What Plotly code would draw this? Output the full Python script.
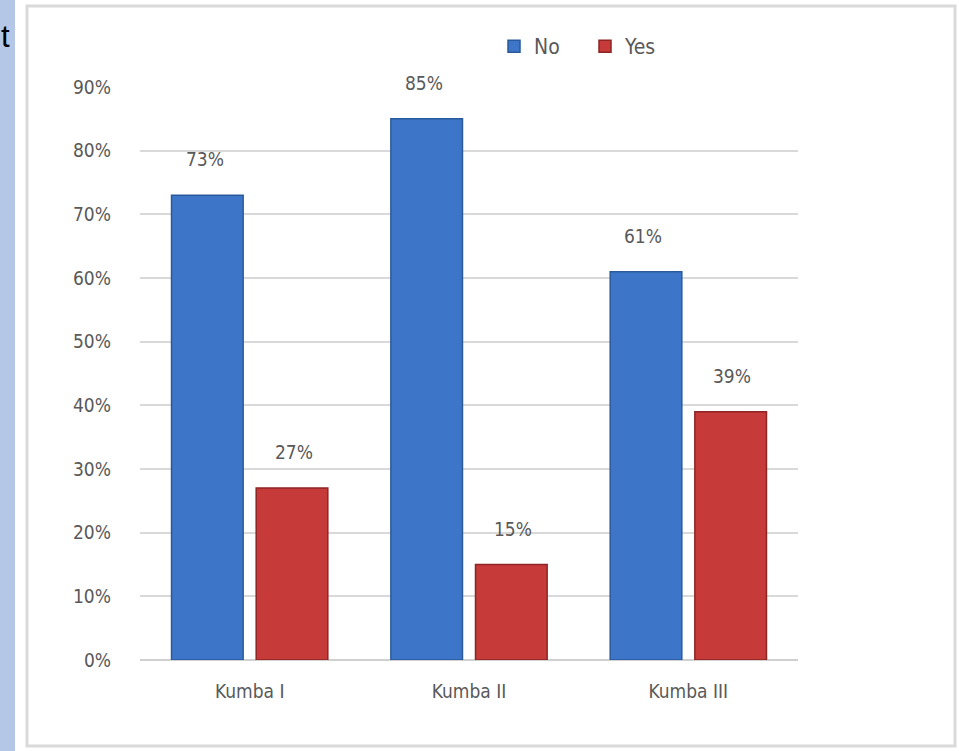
import plotly.graph_objects as go

categories = ["Kumba I", "Kumba II", "Kumba III"]
no_values = [0.73, 0.85, 0.61]
yes_values = [0.27, 0.15, 0.39]
tick_vals = [0, 0.1, 0.2, 0.3, 0.4, 0.5, 0.6, 0.7, 0.8, 0.9]
tick_text = ["0%", "10%", "20%", "30%", "40%", "50%", "60%", "70%", "80%", "90%"]

W, H = 959, 751
FONT = "Liberation Sans Narrow, DejaVu Sans Condensed, Arial Narrow, sans-serif"
GRAY = "#595959"

fig = go.Figure()
fig.add_trace(go.Bar(name="No", x=categories, y=no_values,
                     marker=dict(color="#3d76c8", line=dict(color="#2b5a9c", width=1.5))))
fig.add_trace(go.Bar(name="Yes", x=categories, y=yes_values,
                     marker=dict(color="#c63a3a", line=dict(color="#8e2424", width=1.5))))

annotations = []
for i, c in enumerate(categories):
    for val, off in ((no_values[i], -0.205), (yes_values[i], 0.2)):
        annotations.append(dict(x=i + off, y=val, xref="x", yref="y",
                                text=f"{round(val*100)}%", showarrow=False,
                                yshift=36, font=dict(size=19, color=GRAY, family=FONT)))
annotations.append(dict(x=0, y=1 - 37 / H, xref="paper", yref="paper", text="t",
                        showarrow=False, xanchor="left", yanchor="middle", borderpad=0,
                        font=dict(size=31, color="#000000", family="Liberation Sans, Arial")))

shapes = [
    dict(type="rect", xref="paper", yref="paper", x0=0, x1=15 / W, y0=0, y1=1,
         fillcolor="#b4c7e7", line=dict(width=0), layer="below"),
    dict(type="rect", xref="paper", yref="paper", x0=27 / W, x1=955 / W,
         y0=1 - 746 / H, y1=1 - 6 / H,
         fillcolor="rgba(0,0,0,0)", line=dict(color="#dadada", width=3), layer="below"),
]

fig.update_layout(
    width=W, height=H,
    template="none",
    margin=dict(l=0, r=0, t=0, b=0),
    paper_bgcolor="white", plot_bgcolor="white",
    barmode="group", bargap=0.228, bargroupgap=0.154,
    showlegend=True,
    legend=dict(orientation="h", x=494 / W, y=1 - 26 / H, xanchor="left", yanchor="top",
                font=dict(size=21, color=GRAY, family=FONT), itemwidth=30,
                entrywidth=46, bgcolor="rgba(0,0,0,0)", traceorder="normal"),
    xaxis=dict(domain=[140 / W, 798 / W], automargin=False, showgrid=False,
               showline=False, ticks="", ticklabelstandoff=18,
               tickfont=dict(size=19, color=GRAY, family=FONT)),
    yaxis=dict(domain=[1 - 660 / H, 1 - 87 / H], range=[0, 0.9], automargin=False,
               tickvals=tick_vals, ticktext=tick_text, showgrid=True,
               gridcolor="#d9d9d9", gridwidth=2, zeroline=True, zerolinecolor="#d0d0d0",
               zerolinewidth=2, showline=False, ticks="", ticklabelstandoff=28,
               tickfont=dict(size=19, color=GRAY, family=FONT)),
    annotations=annotations,
    shapes=shapes,
)

fig.write_html("out.html")
